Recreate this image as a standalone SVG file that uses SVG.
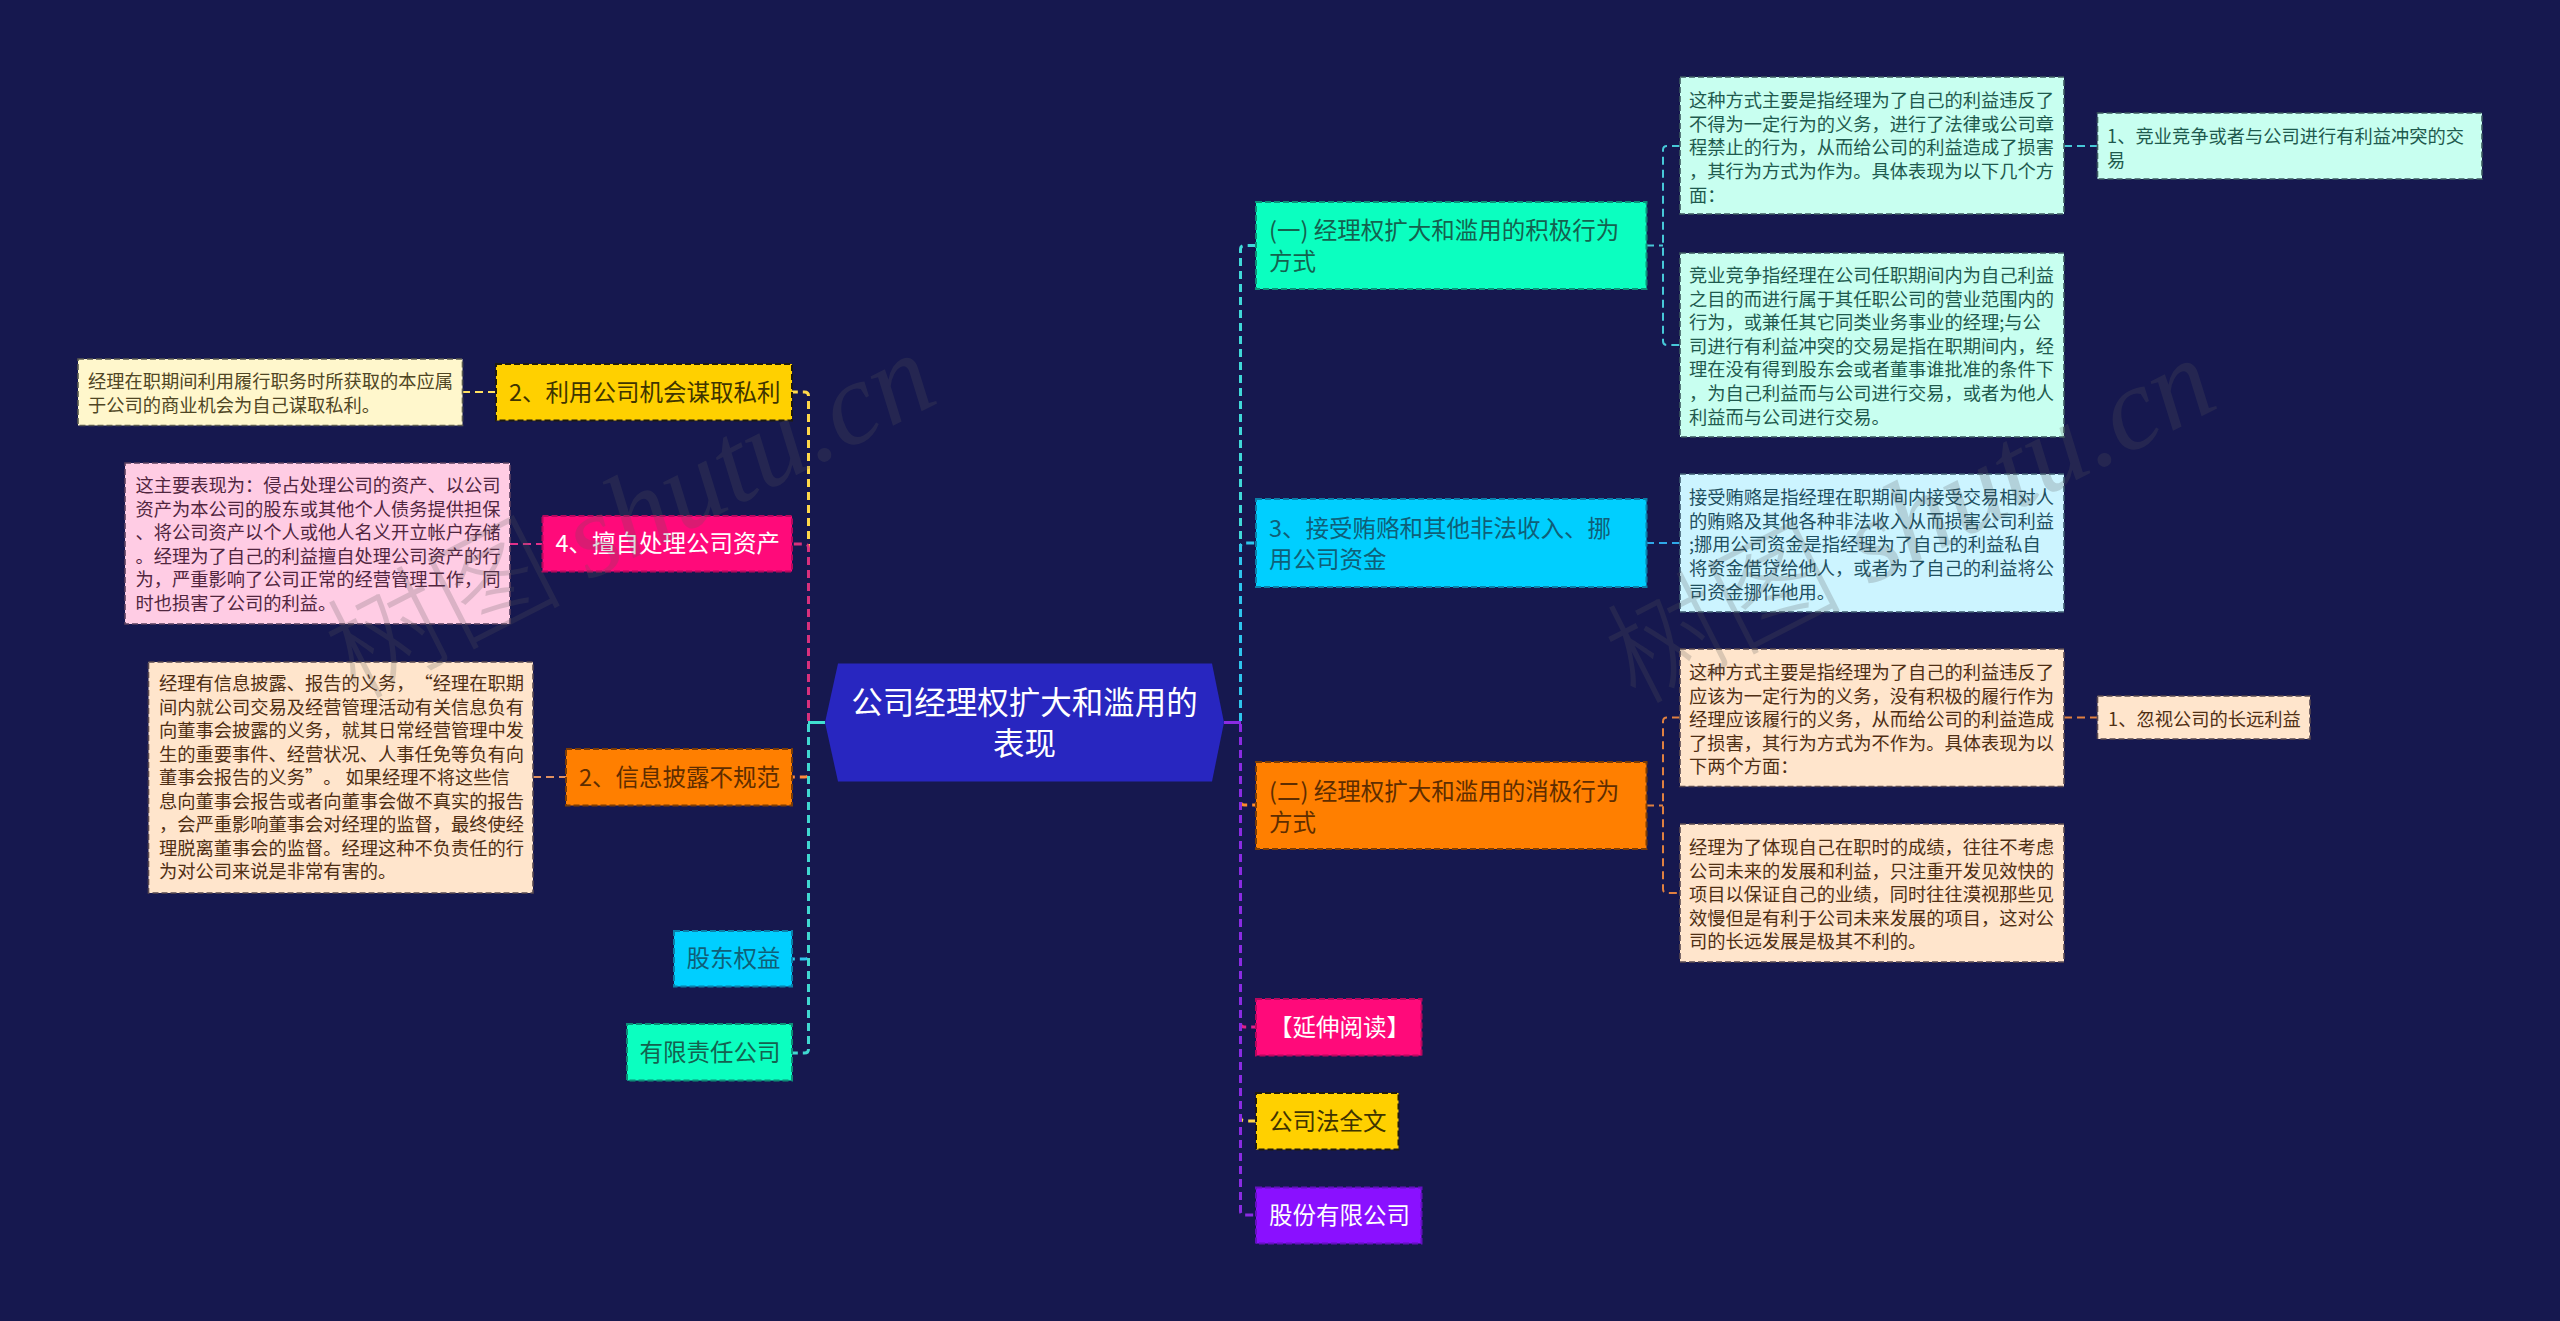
<svg xmlns="http://www.w3.org/2000/svg" width="2560" height="1321" viewBox="0 0 2560 1321">
<style>
text{font-family:"Noto Sans CJK SC","Noto Sans",sans-serif;text-spacing-trim:space-all}
.leaf{font-size:18.25px}
.main{font-size:23.5px}
.root{font-size:31.500px;fill:#fff;text-anchor:middle}
.box{stroke-width:2;stroke-dasharray:6 3}
.l1{fill:none;stroke-width:3;stroke-dasharray:8 5;stroke-dashoffset:-4.5}
.l2{fill:none;stroke-width:2;stroke-dasharray:8 5}
.teal{fill:#0bffc0;stroke:#0c8f78}.teal-t{fill:#14624f}
.cyan{fill:#00cfff;stroke:#0b7fa8}.cyan-t{fill:#0f5f78}
.orange{fill:#ff7f00;stroke:#7a3c06}.orange-t{fill:#5e2d00}
.yellow{fill:#ffd000;stroke:#1e1a10}.yellow-t{fill:#3f3400}
.pink{fill:#ff0a7a;stroke:#b8085e}.white-t{fill:#fff}
.purple{fill:#8a10ff;stroke:#6510c0}
.lf{stroke-width:1.6}
.lt{fill:#c8fff0;stroke:#3c5a60}.lt-t{fill:#1f5a4e}
.lc{fill:#ccf4ff;stroke:#3c5a70}.lc-t{fill:#1e4f60}
.lo{fill:#ffe5cc;stroke:#5a4a50}.lo-t{fill:#4f2f14}
.ly{fill:#fff7cc;stroke:#5a5a50}.ly-t{fill:#4f4624}
.lp{fill:#ffcce4;stroke:#5a4060}.lp-t{fill:#51263f}
.wm{font-size:118px;font-weight:300;fill:#5a5a5a;opacity:.22}
</style>
<rect id="background" width="2560" height="1321" fill="#16184f"/>
<g id="connectors">
<path class="l1" style="stroke:#40d8d8" d="M1224.500 722.500H1240.500V249.500Q1240.500 245.500 1244.500 245.500H1256"/>
<path class="l1" style="stroke:#2ec5ec" d="M1224.500 722.500H1240.500V547Q1240.500 543 1244.500 543H1256"/>
<path class="l1" style="stroke:#ff8a2a" d="M1224.500 722.500H1240.500V801Q1240.500 805 1244.500 805H1256"/>
<path class="l1" style="stroke:#e0208a" d="M1224.500 722.500H1240.500V1023Q1240.500 1027 1244.500 1027H1256"/>
<path class="l1" style="stroke:#ffd84a" d="M1224.500 722.500H1240.500V1117Q1240.500 1121 1244.500 1121H1256"/>
<path class="l1" style="stroke:#8a2be2" d="M1224.500 722.500H1240.500V1211Q1240.500 1215 1244.500 1215H1256"/>
<path class="l1" style="stroke:#ffd84a" d="M824.500 722.500H808.500V396Q808.500 392 804.500 392H792"/>
<path class="l1" style="stroke:#d8307c" d="M824.500 722.500H808.500V548Q808.500 544 804.500 544H792"/>
<path class="l1" style="stroke:#ff8a3c" d="M824.500 722.500H808.500V773Q808.500 777 804.500 777H792"/>
<path class="l1" style="stroke:#2ec5ec" d="M824.500 722.500H808.500V955Q808.500 959 804.500 959H792"/>
<path class="l1" style="stroke:#40d8d0" d="M824.500 722.500H808.500V1049Q808.500 1053 804.500 1053H792"/>
<path d="M825 722.500H808" fill="none" stroke="#40e0d0" stroke-width="3"/>
<path d="M1224 722.500H1241" fill="none" stroke="#8a2be2" stroke-width="3"/>
<g style="stroke:#47c8d8">
<path class="l2" d="M1646 245.500H1663"/>
<path class="l2" d="M1680 146H1667Q1663 146 1663 150V341Q1663 345 1667 345H1680"/>
<path class="l2" d="M2064 146H2097"/>
</g>
<path class="l2" style="stroke:#2fa8e8" d="M1646 543H1680"/>
<g style="stroke:#e08040">
<path class="l2" d="M1646 805.500H1663"/>
<path class="l2" d="M1680 717.500H1667Q1663 717.500 1663 721.500V889Q1663 893 1667 893H1680"/>
<path class="l2" d="M2064 717.500H2097"/>
</g>
<path class="l2" style="stroke:#ffe060" d="M462 392H496"/>
<path class="l2" style="stroke:#e0308a" d="M510 544H542"/>
<path class="l2" style="stroke:#e09060" d="M533 777H566"/>
</g>
<g id="root">
<polygon points="838,663.500 1212,663.500 1224,722.500 1212,781.500 838,781.500 825,722.500" fill="#2826c0"/>
<text class="root" x="1024.500" y="713.500">公司经理权扩大和滥用的</text>
<text class="root" x="1024.500" y="754.500">表现</text>
</g>
<g id="n-active">
<rect class="box teal" x="1256" y="202" width="390.500" height="87"/>
<text class="main teal-t" x="1269" y="239">(一) 经理权扩大和滥用的积极行为</text>
<text class="main teal-t" x="1269" y="270">方式</text>
</g>
<g id="n-bribe">
<rect class="box cyan" x="1256" y="499" width="390.500" height="88"/>
<text class="main cyan-t" x="1269" y="537">3、接受贿赂和其他非法收入、挪</text>
<text class="main cyan-t" x="1269" y="568">用公司资金</text>
</g>
<g id="n-passive">
<rect class="box orange" x="1256" y="762" width="390.500" height="87"/>
<text class="main orange-t" x="1269" y="799.500">(二) 经理权扩大和滥用的消极行为</text>
<text class="main orange-t" x="1269" y="830.500">方式</text>
</g>
<g id="n-read">
<rect class="box pink" x="1256" y="999" width="165.500" height="56.500"/>
<text class="main white-t" x="1269" y="1036">【延伸阅读】</text>
</g>
<g id="n-law">
<rect class="box yellow" x="1256" y="1093" width="142.500" height="56.500"/>
<text class="main yellow-t" x="1269" y="1130">公司法全文</text>
</g>
<g id="n-stock">
<rect class="box purple" x="1256" y="1187.500" width="165.500" height="56"/>
<text class="main white-t" x="1269" y="1224">股份有限公司</text>
</g>
<g id="n-opportunity">
<rect class="box yellow" x="496" y="364" width="296" height="56.500"/>
<text class="main yellow-t" x="509" y="400.500">2、利用公司机会谋取私利</text>
</g>
<g id="n-assets">
<rect class="box pink" x="542.500" y="516" width="249.500" height="55.500"/>
<text class="main white-t" x="555.500" y="552">4、擅自处理公司资产</text>
</g>
<g id="n-disclosure">
<rect class="box orange" x="566" y="749" width="226" height="56.500"/>
<text class="main orange-t" x="579" y="785.500">2、信息披露不规范</text>
</g>
<g id="n-equity">
<rect class="box cyan" x="674" y="931" width="118" height="55.500"/>
<text class="main cyan-t" x="686.500" y="967">股东权益</text>
</g>
<g id="n-llc">
<rect class="box teal" x="627" y="1024" width="165" height="56.500"/>
<text class="main teal-t" x="639.500" y="1061">有限责任公司</text>
</g>
<g id="l-a">
<rect class="box lf lt" x="1680" y="77" width="384" height="137"/>
<text class="leaf lt-t" y="107"><tspan x="1689">这种方式主要是指经理为了自己的利益违反了</tspan><tspan x="1689" dy="23.700">不得为一定行为的义务，进行了法律或公司章</tspan><tspan x="1689" dy="23.700">程禁止的行为，从而给公司的利益造成了损害</tspan><tspan x="1689" dy="23.700">，其行为方式为作为。具体表现为以下几个方</tspan><tspan x="1689" dy="23.700">面：</tspan></text>
</g>
<g id="l-b">
<rect class="box lf lt" x="1680" y="253" width="384" height="184"/>
<text class="leaf lt-t" y="282"><tspan x="1689">竞业竞争指经理在公司任职期间内为自己利益</tspan><tspan x="1689" dy="23.600">之目的而进行属于其任职公司的营业范围内的</tspan><tspan x="1689" dy="23.600">行为，或兼任其它同类业务事业的经理;与公</tspan><tspan x="1689" dy="23.600">司进行有利益冲突的交易是指在职期间内，经</tspan><tspan x="1689" dy="23.600">理在没有得到股东会或者董事谁批准的条件下</tspan><tspan x="1689" dy="23.600">，为自己利益而与公司进行交易，或者为他人</tspan><tspan x="1689" dy="23.600">利益而与公司进行交易。</tspan></text>
</g>
<g id="l-compete">
<rect class="box lf lt" x="2097.500" y="113" width="384.500" height="66"/>
<text class="leaf lt-t" y="143"><tspan x="2107">1、竞业竞争或者与公司进行有利益冲突的交</tspan><tspan x="2107" dy="23.600">易</tspan></text>
</g>
<g id="l-accept">
<rect class="box lf lc" x="1680" y="474" width="384" height="138"/>
<text class="leaf lc-t" y="504"><tspan x="1689">接受贿赂是指经理在职期间内接受交易相对人</tspan><tspan x="1689" dy="23.700">的贿赂及其他各种非法收入从而损害公司利益</tspan><tspan x="1689" dy="23.700">;挪用公司资金是指经理为了自己的利益私自</tspan><tspan x="1689" dy="23.700">将资金借贷给他人，或者为了自己的利益将公</tspan><tspan x="1689" dy="23.700">司资金挪作他用。</tspan></text>
</g>
<g id="l-p1">
<rect class="box lf lo" x="1680" y="649" width="384" height="137.500"/>
<text class="leaf lo-t" y="679"><tspan x="1689">这种方式主要是指经理为了自己的利益违反了</tspan><tspan x="1689" dy="23.600">应该为一定行为的义务，没有积极的履行作为</tspan><tspan x="1689" dy="23.600">经理应该履行的义务，从而给公司的利益造成</tspan><tspan x="1689" dy="23.600">了损害，其行为方式为不作为。具体表现为以</tspan><tspan x="1689" dy="23.600">下两个方面：</tspan></text>
</g>
<g id="l-p2">
<rect class="box lf lo" x="1680" y="824" width="384" height="138"/>
<text class="leaf lo-t" y="854"><tspan x="1689">经理为了体现自己在职时的成绩，往往不考虑</tspan><tspan x="1689" dy="23.500">公司未来的发展和利益，只注重开发见效快的</tspan><tspan x="1689" dy="23.500">项目以保证自己的业绩，同时往往漠视那些见</tspan><tspan x="1689" dy="23.500">效慢但是有利于公司未来发展的项目，这对公</tspan><tspan x="1689" dy="23.500">司的长远发展是极其不利的。</tspan></text>
</g>
<g id="l-neglect">
<rect class="box lf lo" x="2097.500" y="696" width="212.500" height="43"/>
<text class="leaf lo-t" x="2108" y="726">1、忽视公司的长远利益</text>
</g>
<g id="l-opportunity">
<rect class="box lf ly" x="78" y="359" width="384.500" height="66.500"/>
<text class="leaf ly-t" y="388"><tspan x="88">经理在职期间利用履行职务时所获取的本应属</tspan><tspan x="88" dy="23.500">于公司的商业机会为自己谋取私利。</tspan></text>
</g>
<g id="l-assets">
<rect class="box lf lp" x="125" y="463" width="385" height="161"/>
<text class="leaf lp-t" y="492"><tspan x="135.500">这主要表现为：侵占处理公司的资产、以公司</tspan><tspan x="135.500" dy="23.600">资产为本公司的股东或其他个人债务提供担保</tspan><tspan x="135.500" dy="23.600">、将公司资产以个人或他人名义开立帐户存储</tspan><tspan x="135.500" dy="23.600">。经理为了自己的利益擅自处理公司资产的行</tspan><tspan x="135.500" dy="23.600">为，严重影响了公司正常的经营管理工作，同</tspan><tspan x="135.500" dy="23.600">时也损害了公司的利益。</tspan></text>
</g>
<g id="l-disclosure">
<rect class="box lf lo" x="148.500" y="662" width="384.500" height="231"/>
<text class="leaf lo-t" y="690"><tspan x="159">经理有信息披露、报告的义务，“经理在职期</tspan><tspan x="159" dy="23.550">间内就公司交易及经营管理活动有关信息负有</tspan><tspan x="159" dy="23.550">向董事会披露的义务，就其日常经营管理中发</tspan><tspan x="159" dy="23.550">生的重要事件、经营状况、人事任免等负有向</tspan><tspan x="159" dy="23.550">董事会报告的义务”。 如果经理不将这些信</tspan><tspan x="159" dy="23.550">息向董事会报告或者向董事会做不真实的报告</tspan><tspan x="159" dy="23.550">，会严重影响董事会对经理的监督，最终使经</tspan><tspan x="159" dy="23.550">理脱离董事会的监督。经理这种不负责任的行</tspan><tspan x="159" dy="23.550">为对公司来说是非常有害的。</tspan></text>
</g>
<g id="watermarks">
<text class="wm" transform="translate(355 700) rotate(-27)">树图 <tspan font-family="Liberation Serif" font-style="italic">shutu.cn</tspan></text>
<text class="wm" transform="translate(1635 705) rotate(-27)">树图 <tspan font-family="Liberation Serif" font-style="italic">shutu.cn</tspan></text>
</g>
</svg>
